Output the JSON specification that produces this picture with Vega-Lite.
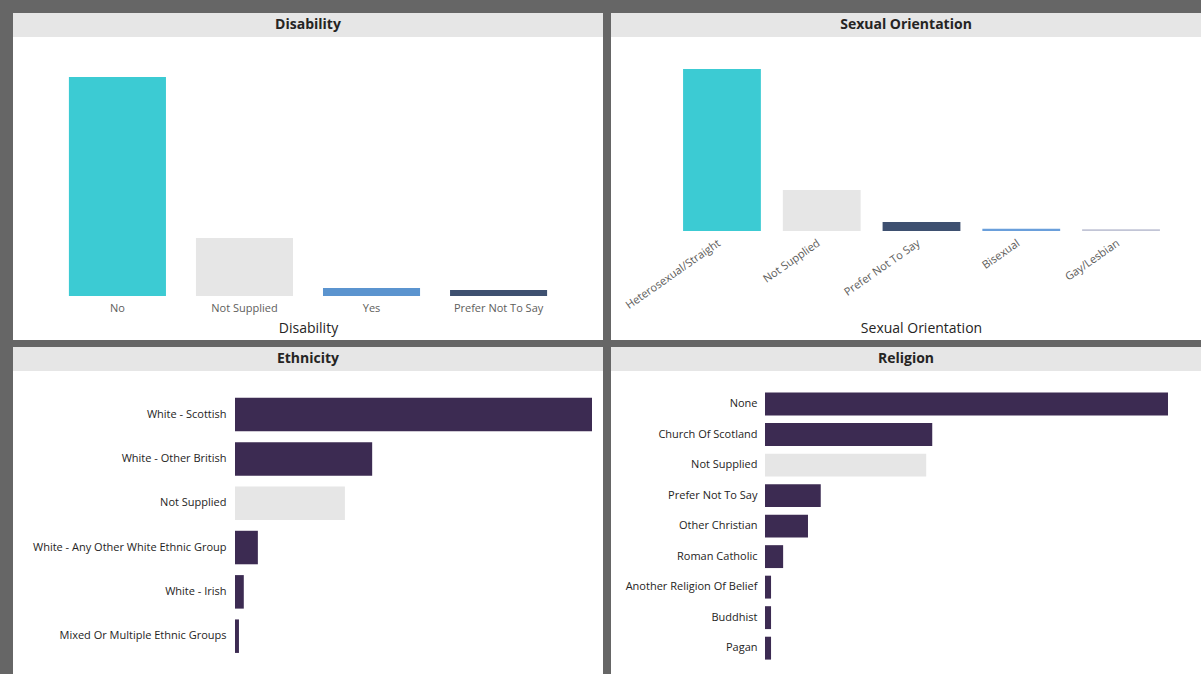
{
  "$schema": "https://vega.github.io/schema/vega-lite/v6.json",
  "background": "#666666",
  "padding": {"left": 13, "top": 13, "right": 0, "bottom": 0},
  "config": {
    "view": {"stroke": null},
    "font": "Open Sans",
    "axis": {"labelFont": "Open Sans", "titleFont": "Open Sans", "domain": false, "ticks": false, "grid": false, "labelLimit": 400}
  },
  "spacing": 7,
  "vconcat": [
    {
      "spacing": 8,
      "hconcat": [
        {
          "spacing": 0,
          "vconcat": [
            {
              "width": 590, "height": 24,
              "view": {"fill": "#e6e6e6", "stroke": null},
              "data": {"values": [{"title": "Disability"}]},
              "mark": {"type": "text", "fontWeight": "bold", "fontSize": 14, "color": "#252423"},
              "encoding": {"text": {"field": "title"}}
            },
            {
              "width": 590, "height": 303,
              "view": {"fill": "#ffffff", "stroke": null},
              "data": {"values": [
                {"disability": "No", "count": 1095},
                {"disability": "Not Supplied", "count": 290},
                {"disability": "Yes", "count": 40},
                {"disability": "Prefer Not To Say", "count": 30}
              ]},
              "mark": {"type": "bar"},
              "encoding": {
                "x": {"field": "disability", "type": "nominal", "sort": null,
                  "scale": {"paddingInner": 0.236, "paddingOuter": 0.44},
                  "axis": {"orient": "bottom", "offset": -44, "labelAngle": 0, "labelFontSize": 11, "labelColor": "#605e5c", "labelPadding": 6,
                    "title": "Disability", "titleFontSize": 14, "titleFontWeight": "normal", "titleColor": "#252423", "titleY": 32, "titleBaseline": "middle"}},
                "y": {"field": "count", "type": "quantitative", "scale": {"domain": [0, 1295], "range": [259, 0]}, "axis": null},
                "color": {"field": "disability", "type": "nominal", "legend": null,
                  "scale": {"domain": ["No", "Not Supplied", "Yes", "Prefer Not To Say"], "range": ["#3ccbd3", "#e6e6e6", "#5b94cf", "#3e5070"]}}
              }
            }
          ]
        },
        {
          "spacing": 0,
          "vconcat": [
            {
              "width": 590, "height": 24,
              "view": {"fill": "#e6e6e6", "stroke": null},
              "data": {"values": [{"title": "Sexual Orientation"}]},
              "mark": {"type": "text", "fontWeight": "bold", "fontSize": 14, "color": "#252423"},
              "encoding": {"text": {"field": "title"}}
            },
            {
              "width": 590, "height": 303,
              "view": {"fill": "#ffffff", "stroke": null},
              "data": {"values": [
                {"orientation": "Heterosexual/Straight", "count": 810},
                {"orientation": "Not Supplied", "count": 205},
                {"orientation": "Prefer Not To Say", "count": 45},
                {"orientation": "Bisexual", "count": 11},
                {"orientation": "Gay/Lesbian", "count": 9}
              ]},
              "mark": {"type": "bar"},
              "encoding": {
                "x": {"field": "orientation", "type": "nominal", "sort": null,
                  "scale": {"paddingInner": 0.22, "paddingOuter": 0.567, "align": 0.637},
                  "axis": {"orient": "bottom", "offset": -109, "labelAngle": -35, "labelAlign": "right", "labelBaseline": "top", "labelFontSize": 11, "labelColor": "#605e5c", "labelPadding": 6, "labelOffset": -6,
                    "title": "Sexual Orientation", "titleFontSize": 14, "titleFontWeight": "normal", "titleColor": "#252423", "titleX": 310, "titleAlign": "center", "titleY": 97, "titleBaseline": "middle"}},
                "y": {"field": "count", "type": "quantitative", "scale": {"domain": [0, 970], "range": [194, 0]}, "axis": null},
                "color": {
                  "condition": [
                    {"test": "datum.orientation === 'Heterosexual/Straight'", "value": "#3ccbd3"},
                    {"test": "datum.orientation === 'Not Supplied'", "value": "#e6e6e6"},
                    {"test": "datum.orientation === 'Prefer Not To Say'", "value": "#3e5070"},
                    {"test": "datum.orientation === 'Bisexual'", "value": "#6a9fdb"}
                  ],
                  "value": "#c2c5d6"
                }
              }
            }
          ]
        }
      ]
    },
    {
      "spacing": 8,
      "hconcat": [
        {
          "spacing": 0,
          "vconcat": [
            {
              "width": 590, "height": 24,
              "view": {"fill": "#e6e6e6", "stroke": null},
              "data": {"values": [{"title": "Ethnicity"}]},
              "mark": {"type": "text", "fontWeight": "bold", "fontSize": 14, "color": "#252423"},
              "encoding": {"text": {"field": "title"}}
            },
            {
              "width": 590, "height": 303,
              "view": {"fill": "#ffffff", "stroke": null},
              "data": {"values": [
                {"ethnicity": "White - Scottish", "count": 812},
                {"ethnicity": "White - Other British", "count": 312},
                {"ethnicity": "Not Supplied", "count": 250},
                {"ethnicity": "White - Any Other White Ethnic Group", "count": 52},
                {"ethnicity": "White - Irish", "count": 20},
                {"ethnicity": "Mixed Or Multiple Ethnic Groups", "count": 9}
              ]},
              "mark": {"type": "bar"},
              "encoding": {
                "y": {"field": "ethnicity", "type": "nominal", "sort": null,
                  "scale": {"paddingInner": 0.244, "paddingOuter": 0.54, "align": 0.56},
                  "axis": {"orient": "left", "offset": -222, "labelFontSize": 11, "labelColor": "#252423", "labelPadding": 9, "title": null}},
                "x": {"field": "count", "type": "quantitative", "scale": {"domain": [0, 812], "range": [222, 579]}, "axis": null},
                "color": {"condition": {"test": "datum.ethnicity === 'Not Supplied'", "value": "#e6e6e6"}, "value": "#3c2b52"}
              }
            }
          ]
        },
        {
          "spacing": 0,
          "vconcat": [
            {
              "width": 590, "height": 24,
              "view": {"fill": "#e6e6e6", "stroke": null},
              "data": {"values": [{"title": "Religion"}]},
              "mark": {"type": "text", "fontWeight": "bold", "fontSize": 14, "color": "#252423"},
              "encoding": {"text": {"field": "title"}}
            },
            {
              "width": 590, "height": 303,
              "view": {"fill": "#ffffff", "stroke": null},
              "data": {"values": [
                {"religion": "None", "count": 600},
                {"religion": "Church Of Scotland", "count": 249},
                {"religion": "Not Supplied", "count": 240},
                {"religion": "Prefer Not To Say", "count": 83},
                {"religion": "Other Christian", "count": 64},
                {"religion": "Roman Catholic", "count": 27},
                {"religion": "Another Religion Of Belief", "count": 9},
                {"religion": "Buddhist", "count": 9},
                {"religion": "Pagan", "count": 9}
              ]},
              "mark": {"type": "bar"},
              "encoding": {
                "y": {"field": "religion", "type": "nominal", "sort": null,
                  "scale": {"paddingInner": 0.25, "paddingOuter": 0.59, "align": 0.6},
                  "axis": {"orient": "left", "offset": -154, "labelFontSize": 11, "labelColor": "#252423", "labelPadding": 8, "title": null}},
                "x": {"field": "count", "type": "quantitative", "scale": {"domain": [0, 600], "range": [154, 557]}, "axis": null},
                "color": {"condition": {"test": "datum.religion === 'Not Supplied'", "value": "#e6e6e6"}, "value": "#3c2b52"}
              }
            }
          ]
        }
      ]
    }
  ]
}
